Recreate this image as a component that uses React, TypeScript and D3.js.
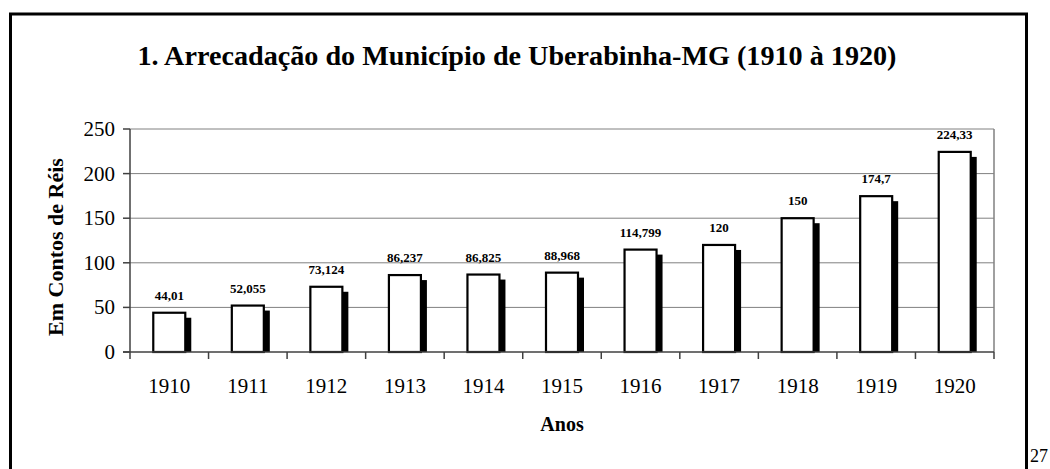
import React from "react";
import * as d3 from "d3";

const years = ["1910", "1911", "1912", "1913", "1914", "1915", "1916", "1917", "1918", "1919", "1920"];
const values = [44.01, 52.055, 73.124, 86.237, 86.825, 88.968, 114.799, 120, 150, 174.7, 224.33];
const valueLabels = ["44,01", "52,055", "73,124", "86,237", "86,825", "88,968", "114,799", "120", "150", "174,7", "224,33"];
const yTicks = [0, 50, 100, 150, 200, 250];

export default function App() {
  const W = 1050, H = 469;
  const left = 130, right = 994, top = 129, bottom = 352;
  const x = d3.scaleBand<string>().domain(years).range([left, right]).paddingInner(0).paddingOuter(0);
  const y = d3.scaleLinear().domain([0, 250]).range([bottom, top]);
  const bw = 32;
  const font = "'Liberation Serif', 'Times New Roman', serif";
  const bounds = [...years.map((yr) => x(yr)!), right];
  return (
    <svg width={W} height={H} style={{ position: "absolute", left: 0, top: 0 }} fontFamily={font}>
      <rect x={0} y={0} width={W} height={H} fill="#fff" />
      <rect x={10.5} y={14} width={1016} height={470} fill="none" stroke="#000" strokeWidth={3} />
      <text x={1030} y={462} fontSize={18}>27</text>
      <text x={517} y={65} textAnchor="middle" fontSize={27} fontWeight="bold" textLength={759} lengthAdjust="spacingAndGlyphs">
        1. Arrecadação do Município de Uberabinha-MG (1910 à 1920)
      </text>
      {/* gridlines */}
      {yTicks.filter((t) => t > 0).map((t) => (
        <line key={t} x1={left} x2={right} y1={y(t)} y2={y(t)} stroke="#808080" strokeWidth={1} />
      ))}
      <line x1={right} x2={right} y1={top} y2={bottom} stroke="#808080" strokeWidth={1.5} />
      {/* bars */}
      {years.map((yr, i) => {
        const cx = x(yr)! + x.bandwidth() / 2;
        const bx = cx - bw / 2;
        const by = y(values[i]);
        return (
          <g key={yr}>
            <rect x={bx + 6} y={by + 5} width={bw} height={bottom - by - 5} fill="#000" />
            <rect x={bx} y={by} width={bw} height={bottom - by} fill="#fff" stroke="#000" strokeWidth={2.2} />
            <text x={cx} y={by - 13} textAnchor="middle" fontSize={13} fontWeight="bold">{valueLabels[i]}</text>
          </g>
        );
      })}
      {/* axes */}
      <line x1={left} x2={left} y1={top} y2={bottom} stroke="#404040" strokeWidth={1.5} />
      <line x1={left - 7} x2={right} y1={bottom} y2={bottom} stroke="#404040" strokeWidth={1.5} />
      {yTicks.map((t) => (
        <g key={t}>
          <line x1={left - 7} x2={left} y1={y(t)} y2={y(t)} stroke="#404040" strokeWidth={1.5} />
          <text x={left - 15} y={y(t) + 7} textAnchor="end" fontSize={21}>{t}</text>
        </g>
      ))}
      {bounds.map((b, i) => (
        <line key={i} x1={b} x2={b} y1={bottom} y2={bottom + 7} stroke="#404040" strokeWidth={1.5} />
      ))}
      {years.map((yr) => (
        <text key={yr} x={x(yr)! + x.bandwidth() / 2} y={393} textAnchor="middle" fontSize={21}>{yr}</text>
      ))}
      <text x={562} y={431} textAnchor="middle" fontSize={20} fontWeight="bold">Anos</text>
      <text transform={`translate(63,247) rotate(-90)`} textAnchor="middle" fontSize={22} fontWeight="bold">Em Contos de Réis</text>
    </svg>
  );
}
